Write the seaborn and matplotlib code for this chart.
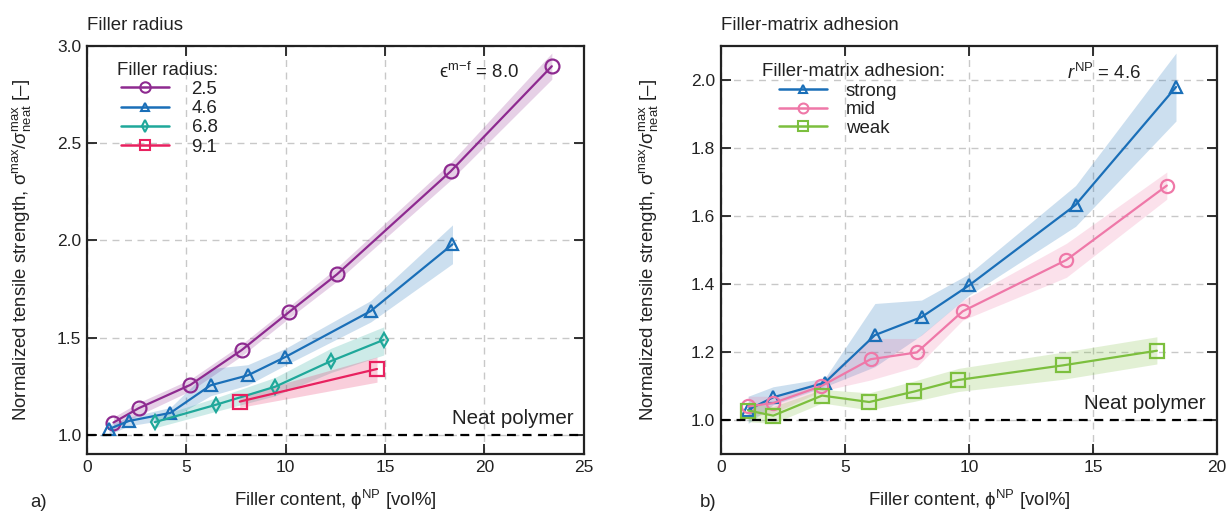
import numpy as np
import pandas as pd
import matplotlib
matplotlib.use("Agg")
import matplotlib.pyplot as plt
from matplotlib.lines import Line2D
import seaborn as sns

# ---------------- data ----------------
# Panel a) filler radius
r_labels = ["2.5", "4.6", "6.8", "9.1"]
r25_x = [1.33, 2.6, 5.2, 7.78, 10.17, 12.58, 18.3, 23.4]
r25_y = [1.062, 1.136, 1.256, 1.435, 1.631, 1.825, 2.355, 2.897]
r25_lo = [1.03, 1.10, 1.225, 1.405, 1.60, 1.79, 2.31, 2.83]
r25_hi = [1.09, 1.165, 1.285, 1.465, 1.66, 1.86, 2.40, 2.965]

r46_x = [1.11, 2.1, 4.2, 6.22, 8.09, 9.99, 14.28, 18.4]
r46_y = [1.029, 1.07, 1.112, 1.254, 1.305, 1.40, 1.636, 1.98]
r46_lo = [1.00, 1.045, 1.08, 1.20, 1.255, 1.358, 1.58, 1.88]
r46_hi = [1.05, 1.09, 1.14, 1.34, 1.36, 1.444, 1.69, 2.08]

r68_x = [3.41, 6.5, 9.48, 12.29, 14.94]
r68_y = [1.064, 1.154, 1.247, 1.379, 1.488]
r68_lo = [1.035, 1.12, 1.20, 1.32, 1.41]
r68_hi = [1.09, 1.19, 1.295, 1.445, 1.555]

r91_x = [7.69, 14.6]
r91_y = [1.17, 1.338]
r91_lo = [1.14, 1.27]
r91_hi = [1.20, 1.40]

# Panel b) filler-matrix adhesion
a_labels = ["strong", "mid", "weak"]
st_x = [1.1, 2.11, 4.19, 6.21, 8.09, 10.0, 14.3, 18.35]
st_y = [1.03, 1.067, 1.11, 1.25, 1.303, 1.396, 1.633, 1.98]
st_lo = [0.99, 1.045, 1.098, 1.157, 1.25, 1.367, 1.57, 1.88]
st_hi = [1.07, 1.098, 1.123, 1.343, 1.353, 1.43, 1.69, 2.08]

md_x = [1.1, 2.11, 4.05, 6.04, 7.9, 9.75, 13.93, 17.98]
md_y = [1.04, 1.05, 1.10, 1.179, 1.199, 1.32, 1.471, 1.69]
md_lo = [1.01, 1.02, 1.085, 1.118, 1.157, 1.294, 1.42, 1.65]
md_hi = [1.07, 1.07, 1.115, 1.24, 1.24, 1.352, 1.52, 1.73]

wk_x = [1.1, 2.11, 4.08, 5.98, 7.8, 9.58, 13.8, 17.58]
wk_y = [1.028, 1.013, 1.072, 1.053, 1.084, 1.118, 1.161, 1.204]
wk_lo = [0.995, 0.99, 1.05, 1.03, 1.055, 1.084, 1.12, 1.165]
wk_hi = [1.05, 1.04, 1.09, 1.08, 1.115, 1.152, 1.20, 1.245]

# ---------------- style ----------------
sns.set_theme(style="ticks")
plt.rcParams["font.family"] = ["Liberation Sans", "DejaVu Sans"]
plt.rcParams["mathtext.fontset"] = "custom"
plt.rcParams["mathtext.rm"] = "Liberation Sans"
plt.rcParams["mathtext.it"] = "Liberation Sans:italic"
plt.rcParams["mathtext.sf"] = "Liberation Sans"
plt.rcParams["mathtext.fallback"] = "stix"
plt.rcParams["text.color"] = "#222222"
plt.rcParams["axes.labelcolor"] = "#222222"

FS = 13.4

fig = plt.figure(figsize=(12.26, 5.11), dpi=100)
axA = fig.add_axes([0.071, 0.1115, 0.405, 0.798])
axB = fig.add_axes([0.588, 0.1115, 0.4046, 0.798])

ylab = (r"Normalized tensile strength, $\mathrm{\sigma}^{\mathrm{max}}/"
        r"\mathrm{\sigma}^{\mathrm{max}}_{\mathrm{neat}}$ [–]")
xlab = r"Filler content, $\mathrm{\phi}^{\mathrm{NP}}$ [vol%]"


def series(ax, x, y, lo, hi, color, marker, ms, label):
    df = pd.DataFrame({"x": x, "y": y})
    ax.fill_between(x, lo, hi, color=color, alpha=0.22, lw=0, zorder=2)
    sns.lineplot(data=df, x="x", y="y", ax=ax, color=color, marker=marker,
                 markersize=ms, mfc="none", mec=color, mew=1.6, lw=1.6,
                 zorder=3, estimator=None, sort=False, legend=False)
    return Line2D([], [], color=color, marker=marker, markersize=ms * 0.75,
                  mfc="none", mec=color, mew=1.5, lw=1.8, label=label)


def style_axes(ax, xlim, ylim, xticks, yticks, ylab_x):
    ax.set_xlim(*xlim)
    ax.set_ylim(*ylim)
    ax.set_xticks(xticks)
    ax.set_yticks(yticks)
    ax.grid(True, ls=(0, (5, 4)), color="#c8c8c8", lw=1.0, zorder=0)
    ax.tick_params(direction="in", length=7, width=1.3, top=True, right=True,
                   labelsize=12.5, pad=4, colors="#222222")
    for s in ax.spines.values():
        s.set_linewidth(1.6)
        s.set_color("#222222")
    ax.set_xlabel(xlab, fontsize=FS)
    ax.set_ylabel(ylab, fontsize=FS)
    ax.xaxis.set_label_coords(0.5, -0.083)
    ax.yaxis.set_label_coords(ylab_x, 0.5)
    ax.axhline(1.0, color="black", lw=1.6, ls=(0, (4, 3)), zorder=4)


c_purple = "#8e2a90"
c_blue = "#1a6fb8"
c_teal = "#1fa89a"
c_red = "#e8215f"
c_pink = "#ef78a8"
c_green = "#7cbf3e"

hA = [
    series(axA, r25_x, r25_y, r25_lo, r25_hi, c_purple, "o", 10, r_labels[0]),
    series(axA, r46_x, r46_y, r46_lo, r46_hi, c_blue, "^", 8.5, r_labels[1]),
    series(axA, r68_x, r68_y, r68_lo, r68_hi, c_teal, "d", 7.5, r_labels[2]),
    series(axA, r91_x, r91_y, r91_lo, r91_hi, c_red, "s", 9.5, r_labels[3]),
]
style_axes(axA, (0, 25), (0.9, 3.0), [0, 5, 10, 15, 20, 25],
           [1.0, 1.5, 2.0, 2.5, 3.0], -0.108)
axA.yaxis.set_major_formatter(matplotlib.ticker.FormatStrFormatter("%.1f"))

hB = [
    series(axB, st_x, st_y, st_lo, st_hi, c_blue, "^", 8.5, a_labels[0]),
    series(axB, md_x, md_y, md_lo, md_hi, c_pink, "o", 9.5, a_labels[1]),
    series(axB, wk_x, wk_y, wk_lo, wk_hi, c_green, "s", 9.5, a_labels[2]),
]
style_axes(axB, (0, 20), (0.9, 2.1), [0, 5, 10, 15, 20],
           [1.0, 1.2, 1.4, 1.6, 1.8, 2.0], -0.122)
axB.yaxis.set_major_formatter(matplotlib.ticker.FormatStrFormatter("%.1f"))

# legend titles as text, legends without frame
axA.text(0.06, 0.941, "Filler radius:", transform=axA.transAxes, fontsize=FS,
         ha="left", va="center")
axA.legend(handles=hA, loc="upper left", bbox_to_anchor=(0.068, 0.915),
           frameon=False, fontsize=FS, handlelength=2.6, handletextpad=1.2,
           labelspacing=0.12, borderpad=0, borderaxespad=0)
axB.text(0.082, 0.937, "Filler-matrix adhesion:", transform=axB.transAxes, fontsize=FS,
         ha="left", va="center")
axB.legend(handles=hB, loc="upper left", bbox_to_anchor=(0.117, 0.91),
           frameon=False, fontsize=FS, handlelength=2.6, handletextpad=1.0,
           labelspacing=0.07, borderpad=0, borderaxespad=0)

axA.text(17.7, 2.866, r"ϵ$^{\mathrm{m\!-\!f}}$ = 8.0", fontsize=FS, va="center", ha="left")
axB.text(13.95, 2.02, r"$r^{\mathrm{NP}}$ = 4.6", fontsize=FS, va="center", ha="left")
axA.text(24.5, 1.057, "Neat polymer", fontsize=14.8, ha="right", va="baseline")
axB.text(19.56, 1.033, "Neat polymer", fontsize=14.8, ha="right", va="baseline")

axA.set_title("Filler radius", loc="left", fontsize=FS, pad=12)
axB.set_title("Filler-matrix adhesion", loc="left", fontsize=FS, pad=12)

fig.text(0.0245, 0.0176, "a)", fontsize=FS, ha="left", va="center")
fig.text(0.571, 0.0176, "b)", fontsize=FS, ha="left", va="center")

fig.savefig("out.png", dpi=100)
